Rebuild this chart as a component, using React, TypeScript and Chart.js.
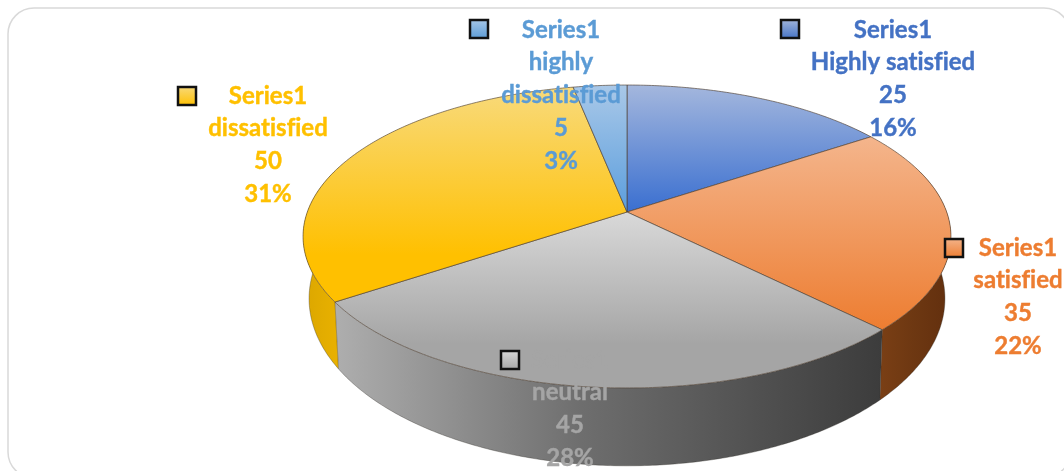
import React, { useEffect, useRef } from "react";
import { Chart, registerables } from "chart.js";

Chart.register(...registerables);

const seriesName = "Series1";
const categories = [["Highly satisfied"], ["satisfied"], ["neutral"], ["dissatisfied"], ["highly", "dissatisfied"]];
const values = [25, 35, 45, 50, 5];
const percents = ["16%", "22%", "28%", "31%", "3%"];

const baseColors = ["#4472C4", "#ED7D31", "#A5A5A5", "#FFC000", "#5B9BD5"];
const lightColors = ["#A4B7DD", "#F4B58C", "#D9D9D9", "#F8DA7C", "#A9C8E8"];
const bottomColors = ["#3A6FD0", "#ED7D31", "#A5A5A5", "#FFC000", "#5B9EDD"];
const fullColourStop = [1, 1, 0.75, 0.78, 1];
const wallStart = ["#2A4A85", "#7A3F15", "#AEAEAE", "#DBA600", "#3A6A96"];
const wallMiddle = ["#2A4A85", "#6E3812", "#6E6E6E", "#E2AC00", "#3A6A96"];
const wallEnd = ["#2A4A85", "#622F0E", "#3C3C3C", "#EAB200", "#3A6A96"];

// Label block for each slice: centre x, first row, and its marker corner.
const labelCentreX = [893, 1018, 570, 268, 561];
const labelFirstY = [30, 248, 360, 96, 30];
const markerX = [780, 944, 500, 177, 469];
const markerY = [19, 238, 350, 86, 19];
const LINE_STEP = 32.7;
const LABEL_FONT = "bold 24px Lato";

// Perspective disc parameters, relative to the pie's radius.
const TOP_DISC = { k: 0.1617, bx: 1.508, by: 0.6958, dy: 0 };
const BOTTOM_DISC = { k: 0.177, bx: 1.476, by: 0.764, dy: 0.269 };
const FRONT_MARGIN = 0.3;

type Disc = typeof TOP_DISC;

function project(arc: any, disc: Disc, angle: number): [number, number] {
  const u = Math.cos(angle);
  const v = -Math.sin(angle);
  const den = 1 + disc.k * v;
  const r = arc.outerRadius;
  return [arc.x + (disc.bx * r * u) / den, arc.y + disc.dy * r - (disc.by * r * v) / den];
}

function sampleAngles(start: number, end: number): number[] {
  const steps = Math.max(2, Math.ceil((end - start) / 0.01));
  const out: number[] = [];
  for (let i = 0; i <= steps; i++) out.push(start + ((end - start) * i) / steps);
  return out;
}

// Draws the pie's elements as a tilted solid: the rim walls first, then the top faces.
const solidPie = {
  id: "solidPie",
  beforeDatasetsDraw(chart: any) {
    const ctx: CanvasRenderingContext2D = chart.ctx;
    const arcs = chart.getDatasetMeta(0).data;

    arcs.forEach((arc: any, i: number) => {
      const start = Math.max(arc.startAngle, -FRONT_MARGIN);
      const end = Math.min(arc.endAngle, Math.PI + FRONT_MARGIN);
      if (end <= start) return;
      const angles = sampleAngles(start, end);
      const upper = angles.map((a) => project(arc, TOP_DISC, a));
      const lower = angles.map((a) => project(arc, BOTTOM_DISC, a));
      const xs = upper.concat(lower).map((p) => p[0]);
      const fill = ctx.createLinearGradient(Math.min(...xs), 0, Math.max(...xs), 0);
      fill.addColorStop(0, wallStart[i]);
      fill.addColorStop(0.45, wallMiddle[i]);
      fill.addColorStop(1, wallEnd[i]);
      ctx.beginPath();
      upper.forEach((p, j) => (j ? ctx.lineTo(p[0], p[1]) : ctx.moveTo(p[0], p[1])));
      lower.reverse().forEach((p) => ctx.lineTo(p[0], p[1]));
      ctx.closePath();
      ctx.fillStyle = fill;
      ctx.fill();
      ctx.beginPath();
      lower.forEach((p, j) => (j ? ctx.lineTo(p[0], p[1]) : ctx.moveTo(p[0], p[1])));
      ctx.lineTo(upper[0][0], upper[0][1]);
      ctx.strokeStyle = "rgba(50,45,40,0.35)";
      ctx.lineWidth = 1;
      ctx.stroke();
    });

    arcs.forEach((arc: any, i: number) => {
      const rim = sampleAngles(arc.startAngle, arc.endAngle).map((a) => project(arc, TOP_DISC, a));
      const ys = rim.map((p) => p[1]).concat(arc.y);
      const fill = ctx.createLinearGradient(0, Math.min(...ys), 0, Math.max(...ys));
      fill.addColorStop(0, lightColors[i]);
      fill.addColorStop(fullColourStop[i], bottomColors[i]);
      ctx.beginPath();
      ctx.moveTo(arc.x, arc.y);
      rim.forEach((p) => ctx.lineTo(p[0], p[1]));
      ctx.closePath();
      ctx.fillStyle = fill;
      ctx.fill();
      ctx.strokeStyle = "rgba(80,65,50,0.65)";
      ctx.lineWidth = 1;
      ctx.stroke();
    });
    return false;
  },
};

// Frame, white ground, and the marker-plus-text label of every slice.
const frameAndLabels = {
  id: "frameAndLabels",
  beforeDraw(chart: any) {
    const ctx: CanvasRenderingContext2D = chart.ctx;
    ctx.save();
    ctx.fillStyle = "#FFFFFF";
    ctx.fillRect(0, 0, chart.width, chart.height);
    ctx.beginPath();
    ctx.roundRect(8, 8, 1062, 470, 26);
    ctx.strokeStyle = "#D9D9D9";
    ctx.lineWidth = 1.5;
    ctx.stroke();
    ctx.restore();
  },
  afterDraw(chart: any) {
    const ctx: CanvasRenderingContext2D = chart.ctx;
    ctx.save();
    ctx.font = LABEL_FONT;
    ctx.textAlign = "center";
    ctx.textBaseline = "middle";
    // Speed-optimised shaping keeps the fi and ti pairs from joining into ligatures.
    (ctx as any).textRendering = "optimizeSpeed";
    values.forEach((value, i) => {
      const lines = [seriesName, ...categories[i], String(value), percents[i]];
      ctx.fillStyle = baseColors[i];
      ctx.strokeStyle = baseColors[i];
      ctx.lineWidth = 0.4;
      lines.forEach((text, row) => {
        const y = labelFirstY[i] + row * LINE_STEP;
        ctx.fillText(text, labelCentreX[i], y);
        ctx.strokeText(text, labelCentreX[i], y);
      });
      const x = markerX[i];
      const y = markerY[i];
      const fill = ctx.createLinearGradient(0, y, 0, y + 20);
      fill.addColorStop(0, lightColors[i]);
      fill.addColorStop(1, baseColors[i]);
      ctx.fillStyle = fill;
      ctx.fillRect(x + 1, y + 1, 18, 18);
      ctx.strokeStyle = "#111111";
      ctx.lineWidth = 2.5;
      ctx.strokeRect(x + 1, y + 1, 18, 18);
    });
    ctx.restore();
  },
};

export default function App() {
  const ref = useRef<HTMLCanvasElement>(null);

  useEffect(() => {
    const chart = new Chart(ref.current!, {
      type: "pie",
      data: {
        labels: categories,
        datasets: [{ label: seriesName, data: values, backgroundColor: baseColors, borderWidth: 0 }],
      },
      options: {
        animation: false,
        responsive: false,
        layout: { padding: { left: 190, right: 0, top: 0, bottom: 47 } },
        plugins: { legend: { display: false }, tooltip: { enabled: false } },
      },
      plugins: [frameAndLabels, solidPie],
    } as any);
    return () => chart.destroy();
  }, []);

  return (
    <canvas
      ref={ref}
      width={1064}
      height={471}
      style={{ position: "fixed", left: 0, top: 0, width: 1064, height: 471 }}
    />
  );
}
